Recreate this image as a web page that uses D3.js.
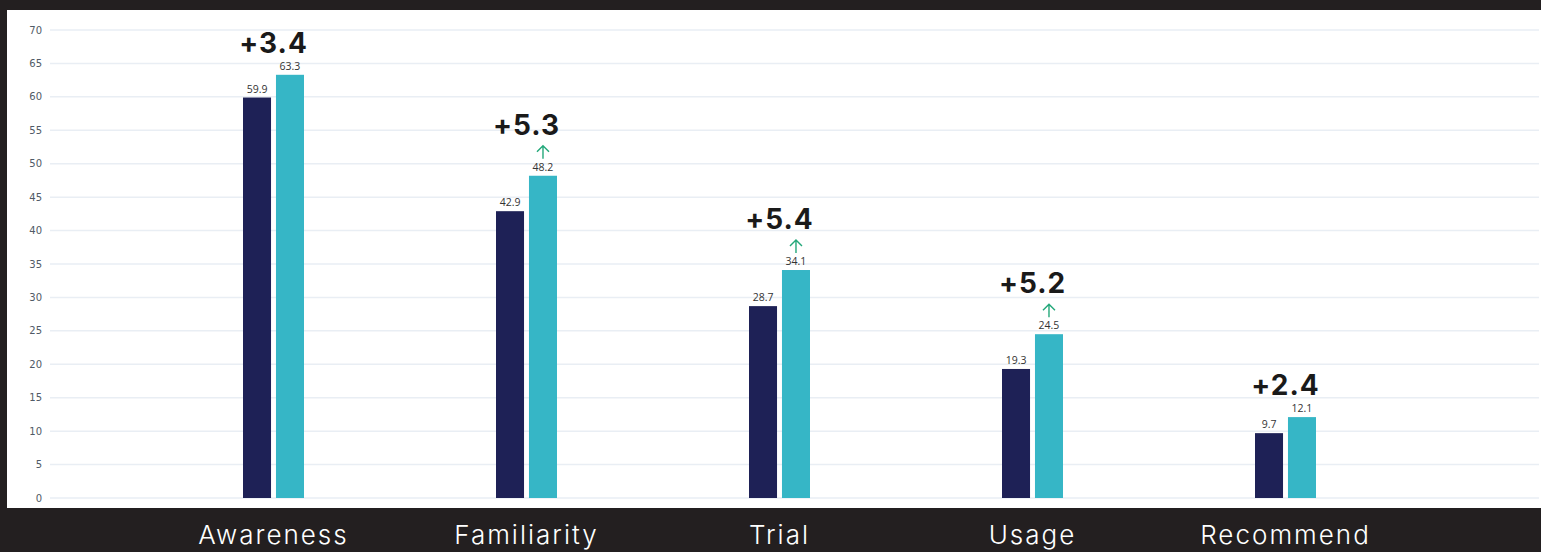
<!DOCTYPE html>
<html>
<head>
<meta charset="utf-8">
<script src="https://cdn.jsdelivr.net/npm/d3@7"></script>
<style>
body{margin:0;background:#231f20;overflow:hidden;}
svg{display:block;}
</style>
</head>
<body>
<script>
// data
var categories = ["Awareness", "Familiarity", "Trial", "Usage", "Recommend"];
var before = [59.9, 42.9, 28.7, 19.3, 9.7];
var after = [63.3, 48.2, 34.1, 24.5, 12.1];
var deltas = ["+3.4", "+5.3", "+5.4", "+5.2", "+2.4"];
var showArrow = [false, true, true, true, false];
var yTicks = [0, 5, 10, 15, 20, 25, 30, 35, 40, 45, 50, 55, 60, 65, 70];

var width = 1541, height = 552;
var svg = d3.select("body").append("svg")
    .attr("width", width)
    .attr("height", height);

// dark frame + white panel
svg.append("rect").attr("width", width).attr("height", height).attr("fill", "#231f20");
svg.append("rect").attr("x", 7).attr("y", 10).attr("width", width - 7).attr("height", 498).attr("fill", "#ffffff");

var y = d3.scaleLinear().domain([0, 70]).range([498, 30]);
var x = d3.scaleBand().domain(categories).range([147, 1412]);
var sub = d3.scaleBand().domain(["before", "after"]).range([-30.5, 30.5]).paddingInner(0.15);

// grid
svg.append("g").selectAll("line")
    .data(yTicks).enter().append("line")
    .attr("x1", 50).attr("x2", 1539)
    .attr("y1", function(d){ return y(d); })
    .attr("y2", function(d){ return y(d); })
    .attr("stroke", "#e9eef4")
    .attr("stroke-width", 1.5);

svg.append("g").selectAll("text")
    .data(yTicks).enter().append("text")
    .attr("x", 42)
    .attr("y", function(d){ return y(d) + 3.5; })
    .attr("text-anchor", "end")
    .attr("font-family", "'Segoe UI', 'DejaVu Sans', sans-serif")
    .attr("font-size", "10px")
    .attr("fill", "#505a66")
    .text(function(d){ return d; });

var groups = svg.append("g").selectAll("g")
    .data(categories).enter().append("g")
    .attr("transform", function(d){ return "translate(" + (x(d) + x.bandwidth()/2) + ",0)"; });

function addBars(key, vals, color){
    groups.append("rect")
        .attr("x", sub(key))
        .attr("y", function(d, i){ return y(vals[i]); })
        .attr("width", sub.bandwidth())
        .attr("height", function(d, i){ return y(0) - y(vals[i]); })
        .attr("fill", color);
    groups.append("text")
        .attr("x", sub(key) + sub.bandwidth()/2)
        .attr("y", function(d, i){ return y(vals[i]) - 5; })
        .attr("text-anchor", "middle")
        .attr("font-family", "'Open Sans', 'DejaVu Sans', sans-serif")
        .attr("font-size", "10.5px")
        .attr("fill", "#333")
        .text(function(d, i){ return vals[i]; });
}
addBars("before", before, "#1e2156");
addBars("after", after, "#36b6c6");

// green arrows
var ax = sub("after") + sub.bandwidth()/2;
groups.filter(function(d, i){ return showArrow[i]; })
    .append("path")
    .attr("d", function(d){
        var top = y(after[categories.indexOf(d)]) - 30;
        var bot = top + 13;
        return "M" + ax + "," + bot + "V" + top +
            "M" + (ax - 6) + "," + (top + 6) + "L" + ax + "," + top + "L" + (ax + 6) + "," + (top + 6);
    })
    .attr("fill", "none")
    .attr("stroke", "#23a87a")
    .attr("stroke-width", 1.4);

// delta labels
groups.append("text")
    .attr("x", 0)
    .attr("y", function(d, i){ return y(after[i]) - (showArrow[i] ? 41 : 22); })
    .attr("text-anchor", "middle")
    .attr("font-family", "Inter, 'Liberation Sans', sans-serif")
    .attr("font-weight", "bold")
    .attr("font-size", "28px")
    .attr("letter-spacing", "1px")
    .attr("fill", "#1a1a1a")
    .text(function(d, i){ return deltas[i]; });

// category labels
svg.append("g").selectAll("text")
    .data(categories).enter().append("text")
    .attr("x", function(d){ return x(d) + x.bandwidth()/2; })
    .attr("y", 544)
    .attr("text-anchor", "middle")
    .attr("font-family", "Inter, 'Liberation Sans', sans-serif")
    .attr("font-size", "26px")
    .attr("font-weight", 300)
    .attr("letter-spacing", "2px")
    .attr("fill", "#ffffff")
    .text(function(d){ return d; });
</script>
</body>
</html>
